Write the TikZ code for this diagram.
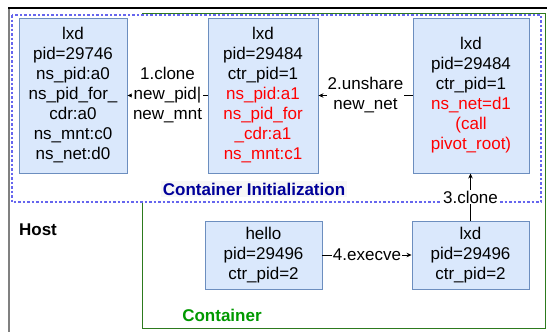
\documentclass[tikz,border=0pt]{standalone}
\usepackage{fontspec}
\setmainfont{Liberation Sans}
\usetikzlibrary{arrows.meta}

\definecolor{boxfill}{HTML}{DAE8FC}
\definecolor{boxline}{HTML}{6C8EBF}
\definecolor{initblue}{HTML}{000099}
\definecolor{initline}{HTML}{6666EE}
\definecolor{ctrgreen}{HTML}{2D7A1E}
\definecolor{ctrtext}{HTML}{009900}

\newcommand{\redtxt}[1]{\textcolor{red}{#1}}

\tikzset{
  proc/.style={draw=boxline, fill=boxfill, line width=0.9pt, inner sep=0pt,
    align=center, font=\fontsize{17}{20}\selectfont},
  flow/.style={-{Stealth[length=5pt,width=4.5pt]}, line width=0.8pt},
  lbl/.style={fill=white, inner sep=1pt, align=center,
    font=\fontsize{17}{20}\selectfont}
}

\begin{document}
\begin{tikzpicture}[x=1pt, y=-1pt]
  \useasboundingbox (0,0) rectangle (547,332);

  % host frame
  \draw[line width=1.4pt] (9,332) -- (9,8) -- (547,8);
  \draw[line width=1.4pt, gray] (9,332) -- (9,9);

  % container frame
  \draw[ctrgreen, line width=1pt] (142,13) rectangle (545,328);

  % container initialization frame
  \draw[initline, fill=white, line width=1.2pt, dash pattern=on 2.5pt off 2pt]
    (12,15) rectangle (541,202);

  \node[proc, minimum width=108pt, minimum height=155pt] (a) at (73,95.5)
    {lxd\\pid=29746\\ns\_pid:a0\\ns\_pid\_for\_\\cdr:a0\\ns\_mnt:c0\\ns\_net:d0};
  \node[proc, minimum width=110pt, minimum height=155pt] (b) at (263,95.5)
    {lxd\\pid=29484\\ctr\_pid=1\\\redtxt{ns\_pid:a1}\\\redtxt{ns\_pid\_for}\\
     \redtxt{\_cdr:a1}\\\redtxt{ns\_mnt:c1}};
  \node[proc, minimum width=116pt, minimum height=155pt] (c) at (471,95.5)
    {lxd\\pid=29484\\ctr\_pid=1\\\redtxt{ns\_net=d1}\\\redtxt{(call}\\
     \redtxt{pivot\_root)}};
  \node[proc, minimum width=117pt, minimum height=68pt] (d) at (263.5,255)
    {hello\\pid=29496\\ctr\_pid=2};
  \node[proc, minimum width=117pt, minimum height=68pt] (e) at (470.5,255)
    {lxd\\pid=29496\\ctr\_pid=2};

  \draw[flow] (b.west) -- node[lbl] {1.clone\\new\_pid|\\new\_mnt} (a.east);
  \draw[flow] (c.west) -- node[lbl] {2.unshare\\new\_net} (b.east);
  \draw[flow] (e.north) -- node[lbl] {3.clone} (e.north |- c.south);
  \draw[flow] (d.east) -- node[lbl] {4.execve} (e.west);

  \node[fill=black!3, inner sep=2pt, text=initblue,
    font=\fontsize{17}{20}\selectfont\bfseries] (init) at (254,189)
    {Container Initialization};
  \node[font=\fontsize{17}{20}\selectfont\bfseries] (host) at (38,230) {Host};
  \node[text=ctrtext, font=\fontsize{17}{20}\selectfont\bfseries] (ctr)
    at (222,315) {Container};
\end{tikzpicture}
\end{document}
